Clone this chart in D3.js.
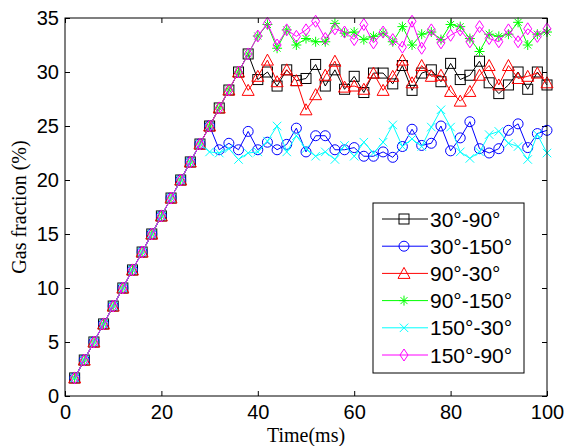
<!DOCTYPE html>
<html>
<head>
<meta charset="utf-8">
<script src="https://cdn.jsdelivr.net/npm/d3@7"></script>
<style>
  body { margin: 0; background: #fff; }
  svg { display: block; }
</style>
</head>
<body>
<svg id="chart" width="564" height="446"></svg>
<script>
// DATA
const time = [2, 4, 6, 8, 10, 12, 14, 16, 18, 20, 22, 24, 26, 28, 30, 32, 34, 36, 38, 40,
  42, 44, 46, 48, 50, 52, 54, 56, 58, 60, 62, 64, 66, 68, 70, 72, 74, 76, 78, 80,
  82, 84, 86, 88, 90, 92, 94, 96, 98, 100];

const s30_90 = [1.67, 3.33, 5.0, 6.67, 8.33, 10.0, 11.67, 13.33, 15.0, 16.67, 18.33, 20.0, 21.67, 23.33, 25.0, 26.67, 28.33, 30.0, 31.67,
  29.3, 30.0, 28.7, 30.2, 29.2, 29.4, 30.7, 28.7, 30.2, 28.4, 29.6, 28.1, 29.9, 29.9, 28.9, 30.6, 28.3, 29.9, 30.2, 29.1, 30.8,
  29.3, 29.7, 31.0, 29.0, 28.0, 28.8, 30.0, 28.4, 30.0, 28.8];

const s30_150 = [1.67, 3.33, 5.0, 6.67, 8.33, 10.0, 11.67, 13.33, 15.0, 16.67, 18.33, 20.0, 21.67, 23.33, 25.0,
  22.8, 23.4, 22.8, 24.5, 22.8, 23.5, 22.8, 23.3, 24.8, 22.6, 24.1, 24.1, 22.8, 22.8, 23.0, 22.2, 22.2, 22.6, 22.1, 23.1,
  24.7, 23.2, 23.4, 25.0, 22.7, 23.9, 25.4, 22.9, 22.5, 22.9, 24.6, 25.2, 23.0, 24.3, 24.6];

const s90_30 = [1.67, 3.33, 5.0, 6.67, 8.33, 10.0, 11.67, 13.33, 15.0, 16.67, 18.33, 20.0, 21.67, 23.33, 25.0, 26.67, 28.33, 30.0,
  28.3, 29.6, 31.1, 29.1, 30.2, 29.2, 26.5, 27.9, 29.7, 31.0, 28.6, 28.7, 28.4, 29.9, 28.3, 29.6, 31.1, 29.0, 30.6, 29.6,
  29.7, 28.2, 27.3, 28.2, 29.7, 30.6, 28.8, 30.6, 29.4, 29.6, 29.9, 29.0];

const s90_150 = [1.67, 3.33, 5.0, 6.67, 8.33, 10.0, 11.67, 13.33, 15.0, 16.67, 18.33, 20.0, 21.67, 23.33, 25.0, 26.67, 28.33, 30.0, 31.67, 33.33,
  34.4, 32.2, 33.9, 32.5, 33.1, 32.8, 32.8, 34.5, 33.6, 33.7, 33.0, 33.3, 33.6, 32.8, 34.2, 32.5, 33.5, 33.7, 33.0, 34.4,
  34.2, 33.1, 31.9, 33.5, 33.3, 33.5, 34.6, 32.5, 33.5, 33.7];

const s150_30 = [1.67, 3.33, 5.0, 6.67, 8.33, 10.0, 11.67, 13.33, 15.0, 16.67, 18.33, 20.0, 21.67, 23.33,
  22.6, 22.5, 22.9, 21.9, 22.5, 22.6, 23.6, 25.0, 22.6, 24.1, 22.9, 22.2, 22.6, 21.9, 23.2, 22.2, 23.5, 22.5, 23.5, 25.1,
  23.1, 23.8, 23.1, 24.9, 26.5, 24.9, 22.6, 22.0, 22.6, 24.2, 24.5, 23.4, 23.1, 21.9, 24.2, 22.5];

const s150_90 = [1.67, 3.33, 5.0, 6.67, 8.33, 10.0, 11.67, 13.33, 15.0, 16.67, 18.33, 20.0, 21.67, 23.33, 25.0, 26.67, 28.33, 30.0, 31.67, 33.33,
  34.5, 32.5, 33.9, 33.3, 33.9, 34.7, 33.1, 34.0, 33.7, 33.0, 34.4, 32.7, 33.7, 33.0, 32.3, 34.7, 32.2, 33.9, 32.7, 33.4,
  33.9, 32.8, 34.2, 33.1, 32.8, 33.9, 32.8, 34.0, 33.3, 34.0];

const seriesNames = ["30°-90°", "30°-150°", "90°-30°", "90°-150°", "150°-30°", "150°-90°"];
const seriesValues = [s30_90, s30_150, s90_30, s90_150, s150_30, s150_90];
const seriesColors = ["#000000", "#0000ff", "#ff0000", "#00ff00", "#00ffff", "#ff00ff"];
const seriesMarkers = ["square", "circle", "triangle", "star", "cross", "diamond"];

const xTicks = [0, 20, 40, 60, 80, 100];
const yTicks = [0, 5, 10, 15, 20, 25, 30, 35];

// CANVAS SETUP
const svg = d3.select("#chart");
const margin = { top: 18, right: 17, bottom: 50, left: 65 },
  width = +svg.attr("width") - margin.left - margin.right,
  height = +svg.attr("height") - margin.top - margin.bottom;

const tickFont = "'Liberation Sans', Arial, sans-serif";
const labelFont = "'Liberation Serif', 'Times New Roman', serif";

const x = d3.scaleLinear().domain([0, 100]).range([0, width]);
const y = d3.scaleLinear().domain([0, 35]).range([height, 0]);

const g = svg.append("g").attr("transform", `translate(${margin.left},${margin.top})`);

// AXES (ticks point inward on all four sides)
const styleAxis = (sel, showText) => {
  sel.select(".domain").remove();
  sel.selectAll("line").attr("stroke", "#000");
  sel.selectAll("text")
    .attr("fill", "#000")
    .style("font-family", tickFont)
    .style("font-size", "20px");
  if (!showText) sel.selectAll("text").remove();
};

g.append("g")
  .attr("transform", `translate(0,${height})`)
  .call(d3.axisBottom(x).tickValues(xTicks).tickSizeInner(-5).tickSizeOuter(0).tickPadding(9))
  .call((a) => styleAxis(a, true));

g.append("g")
  .call(d3.axisTop(x).tickValues(xTicks).tickSizeInner(-5).tickSizeOuter(0))
  .call((a) => styleAxis(a, false));

g.append("g")
  .call(d3.axisLeft(y).tickValues(yTicks).tickSizeInner(-5).tickSizeOuter(0).tickPadding(6))
  .call((a) => styleAxis(a, true));

g.append("g")
  .attr("transform", `translate(${width},0)`)
  .call(d3.axisRight(y).tickValues(yTicks).tickSizeInner(-5).tickSizeOuter(0))
  .call((a) => styleAxis(a, false));

// MARKERS
const drawMarker = (sel, type, color) => {
  const s = 5;
  if (type === "square") {
    sel.append("rect").attr("x", -s).attr("y", -s).attr("width", 2 * s).attr("height", 2 * s)
      .attr("fill", "none").attr("stroke", color);
  } else if (type === "circle") {
    sel.append("circle").attr("r", s).attr("fill", "none").attr("stroke", color);
  } else if (type === "triangle") {
    sel.append("path").attr("d", `M0,${-s - 1}L${s + 1},${s}L${-s - 1},${s}Z`)
      .attr("fill", "none").attr("stroke", color);
  } else if (type === "diamond") {
    sel.append("path").attr("d", `M0,${-s - 1}L${s - 1},0L0,${s + 1}L${-s + 1},0Z`)
      .attr("fill", "none").attr("stroke", color);
  } else if (type === "star") {
    const d = s * 0.7;
    sel.append("path")
      .attr("d", `M${-s},0L${s},0M0,${-s}L0,${s}M${-d},${-d}L${d},${d}M${-d},${d}L${d},${-d}`)
      .attr("fill", "none").attr("stroke", color);
  } else if (type === "cross") {
    const d = s * 0.85;
    sel.append("path")
      .attr("d", `M${-d},${-d}L${d},${d}M${-d},${d}L${d},${-d}`)
      .attr("fill", "none").attr("stroke", color);
  }
};

// RENDER
const line = d3.line()
  .x((d) => x(d.t))
  .y((d) => y(d.v));

seriesValues.forEach((vals, i) => {
  const data = vals.map((v, j) => ({ t: time[j], v: v }));
  const sg = g.append("g").attr("class", "series");
  sg.append("path")
    .datum(data)
    .attr("fill", "none")
    .attr("stroke", seriesColors[i])
    .attr("stroke-width", 1)
    .attr("d", line);
  sg.selectAll("g.marker")
    .data(data)
    .join("g")
    .attr("class", "marker")
    .attr("transform", (d) => `translate(${x(d.t)},${y(d.v)})`)
    .each(function () {
      drawMarker(d3.select(this), seriesMarkers[i], seriesColors[i]);
    });
});

// plot box
g.append("rect")
  .attr("width", width)
  .attr("height", height)
  .attr("fill", "none")
  .attr("stroke", "#000")
  .attr("stroke-width", 1);

// AXIS TITLES
svg.append("text")
  .attr("x", margin.left + width / 2)
  .attr("y", 442)
  .attr("text-anchor", "middle")
  .style("font-family", labelFont)
  .style("font-size", "20px")
  .text("Time(ms)");

svg.append("text")
  .attr("transform", `translate(26,${margin.top + height / 2}) rotate(-90)`)
  .attr("text-anchor", "middle")
  .style("font-family", labelFont)
  .style("font-size", "20px")
  .text("Gas fraction (%)");

// LEGEND
const legend = svg.append("g").attr("transform", "translate(373,203)");
legend.append("rect")
  .attr("width", 151)
  .attr("height", 170)
  .attr("fill", "#fff")
  .attr("stroke", "#000");

const rowY = d3.scalePoint().domain(seriesNames).range([16, 152]);

seriesNames.forEach((name, i) => {
  const row = legend.append("g").attr("transform", `translate(0,${rowY(name)})`);
  row.append("line")
    .attr("x1", 9).attr("x2", 55)
    .attr("stroke", seriesColors[i]);
  const m = row.append("g").attr("transform", "translate(31,0)");
  drawMarker(m, seriesMarkers[i], seriesColors[i]);
  row.append("text")
    .attr("x", 57)
    .attr("dy", "0.36em")
    .style("font-family", tickFont)
    .style("font-size", "21px")
    .text(name);
});
</script>
</body>
</html>
